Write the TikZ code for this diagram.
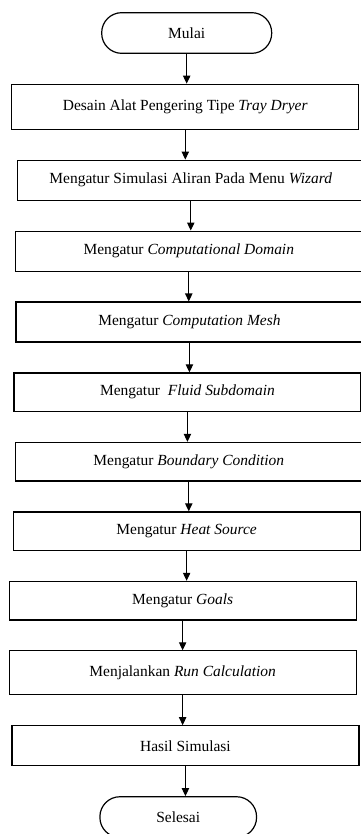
\documentclass[tikz,border=0pt]{standalone}
\usepackage{fontspec}
\setmainfont{Liberation Serif}
\usetikzlibrary{arrows.meta, positioning}

\begin{document}
\begin{tikzpicture}[
    x=0.75pt, y=0.75pt,
    node distance=22.3pt,
    every node/.style={draw, line width=0.9pt, inner sep=0pt, font=\fontsize{11.6}{13}\selectfont},
    stepbox/.style={rectangle, minimum width=260.25pt, minimum height=30pt},
    terminal/.style={rectangle, rounded corners=15pt, minimum height=30.5pt},
    every edge/.style={draw, line width=0.8pt, -{Triangle[length=6pt, width=5.5pt]}}
]
\useasboundingbox (0,0) rectangle (360,-834);

\node (mulai) [terminal, minimum width=127.5pt] at (186.7,-33) {Mulai};
\node (desain) [stepbox, minimum height=33.75pt, below=of mulai, xshift=-1.05pt] {Desain Alat Pengering Tipe \textit{Tray Dryer}};
\node (wizard) [stepbox, below=of desain, xshift=4.1pt] {Mengatur Simulasi Aliran Pada Menu \textit{Wizard}};
\node (domain) [stepbox, below=of wizard, xshift=-1.5pt] {Mengatur \textit{Computational Domain}};
\node (mesh) [stepbox, below=of domain, xshift=0.5pt] {Mengatur \textit{Computation Mesh}};
\node (fluid) [stepbox, minimum height=28.9pt, below=of mesh, xshift=-1.5pt] {Mengatur\ \ \textit{Fluid Subdomain}};
\node (boundary) [stepbox, minimum height=28.9pt, below=of fluid, xshift=1pt] {Mengatur \textit{Boundary Condition}};
\node (heat) [stepbox, minimum height=28.9pt, below=of boundary, xshift=-1.6pt] {Mengatur \textit{Heat Source}};
\node (goals) [stepbox, minimum height=28.9pt, below=of heat, xshift=-3pt] {Mengatur \textit{Goals}};
\node (run) [stepbox, minimum height=33pt, below=of goals] {Menjalankan \textit{Run Calculation}};
\node (hasil) [stepbox, below=of run, xshift=2.1pt] {Hasil Simulasi};
\node (selesai) [terminal, minimum width=117.5pt, below=of hasil, xshift=-5.4pt] {Selesai};

\draw (mulai.south) edge (mulai.south |- desain.north);
\draw (desain.south) edge (desain.south |- wizard.north);
\draw (wizard.south) edge (wizard.south |- domain.north);
\draw (domain.south) edge (domain.south |- mesh.north);
\draw (mesh.south) edge (mesh.south |- fluid.north);
\draw (fluid.south) edge (fluid.south |- boundary.north);
\draw (boundary.south) edge (boundary.south |- heat.north);
\draw (heat.south) edge (heat.south |- goals.north);
\draw (goals.south) edge (goals.south |- run.north);
\draw (run.south) edge (run.south |- hasil.north);
\draw (hasil.south) edge (hasil.south |- selesai.north);

\end{tikzpicture}
\end{document}
